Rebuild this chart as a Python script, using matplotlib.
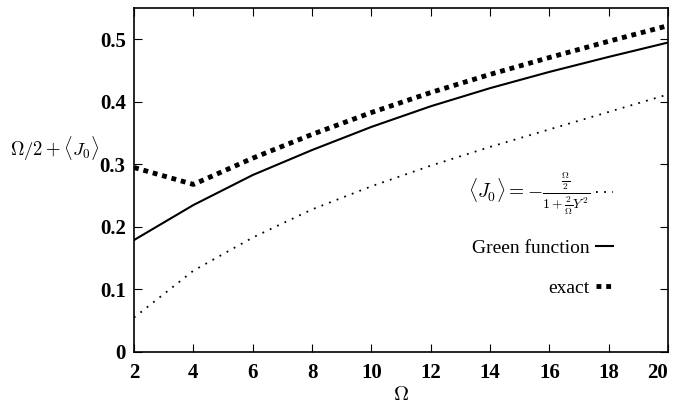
import numpy as np
import matplotlib.pyplot as plt

plt.rcParams['font.family'] = ['Liberation Serif', 'DejaVu Serif']
plt.rcParams['mathtext.fontset'] = 'cm'

omega = [2, 4, 6, 8, 10, 12, 14, 16, 18, 20]
j0_approx = [0.055, 0.130, 0.183, 0.228, 0.265, 0.298, 0.328, 0.356, 0.384, 0.412]
green = [0.179, 0.235, 0.283, 0.323, 0.360, 0.393, 0.422, 0.448, 0.472, 0.495]
exact = [0.295, 0.268, 0.310, 0.348, 0.383, 0.415, 0.444, 0.471, 0.497, 0.522]

fig = plt.figure(figsize=(6.77, 4.05), dpi=100)
ax = fig.add_axes([0.198, 0.131, 0.789, 0.849])

ax.plot(omega, j0_approx, color='k', lw=1.3, linestyle=(0, (1, 3.5)),
        label=r'$\langle J_0\rangle = -\frac{\frac{\Omega}{2}}{1+\frac{2}{\Omega}Y^2}$')
ax.plot(omega, green, color='k', lw=1.5, label='Green function')
ax.plot(omega, exact, color='k', lw=3.5, linestyle=(0, (1, 1)), label='exact')

ax.set_xlim(2, 20)
ax.set_ylim(0, 0.55)
ax.set_xticks(omega)
ax.set_yticks([0, 0.1, 0.2, 0.3, 0.4, 0.5])
ax.set_yticklabels(['0', '0.1', '0.2', '0.3', '0.4', '0.5'])
ax.tick_params(direction='in', top=True, right=True, length=6, labelsize=15, pad=8)
ax.tick_params(axis='y', pad=6)
for lab in ax.get_xticklabels() + ax.get_yticklabels():
    lab.set_fontweight('bold')
ax.get_xticklabels()[-1].set_horizontalalignment('right')
for s in ax.spines.values():
    s.set_linewidth(1.2)

ax.set_xlabel(r'$\Omega$', fontsize=15, labelpad=2)
ax.set_ylabel(r'$\Omega/2 + \langle J_0\rangle$', fontsize=13.5, rotation=0, ha='center')
ax.yaxis.set_label_coords(-0.148, 0.55)

leg = ax.legend(loc='lower right', bbox_to_anchor=(0.93, 0.11), frameon=False,
                markerfirst=False, handlelength=0.9, handletextpad=0.3,
                labelspacing=1.15, fontsize=14)
for t in leg.get_texts():
    t.set_ha('right')

fig.savefig('out.png', dpi=100)
